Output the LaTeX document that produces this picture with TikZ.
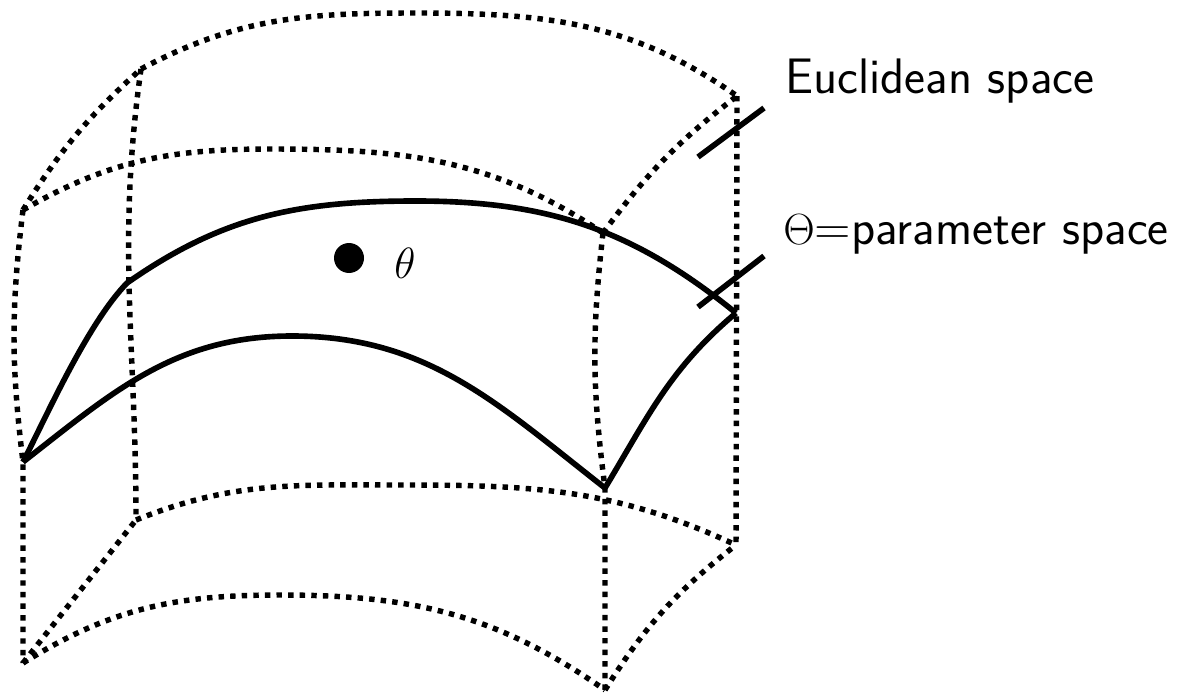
\documentclass[tikz,border=0pt]{standalone}
\usepackage{amsmath}
\usetikzlibrary{positioning}
\tikzset{
  edot/.style ={line width=3.1pt,dash pattern=on 3.1pt off 3.5pt,line cap=butt},
  esol/.style ={line width=3.2pt,line join=round},
  lead/.style ={line width=3.2pt},
  lbl/.style  ={font=\fontsize{28.4}{34}\selectfont\sffamily,inner sep=0pt,
                anchor=base west},
  pdot/.style ={circle,fill=black,minimum size=0.6cm,inner sep=0pt},
}

\begin{document}
\begin{tikzpicture}[x=0.02cm,y=-0.02cm]
\useasboundingbox (0,0) rectangle (1182,696);

% corners of the euclidean slab
\coordinate (tbl) at (141,69);
\coordinate (tbr) at (737,96);
\coordinate (tfl) at (23,210);
\coordinate (tfr) at (603,233);
\coordinate (bbl) at (136,520);
\coordinate (bbr) at (736,545);
\coordinate (bfl) at (23,663);
\coordinate (bfr) at (605,690);
\coordinate (tbm) at (415,13);
\coordinate (tfm) at (270,149);
\coordinate (bbm) at (400,485);
\coordinate (bfm) at (280,595);

% corners of the parameter surface
\coordinate (sfl) at (23,462);
\coordinate (sbl) at (127,283);
\coordinate (sfr) at (605,488);
\coordinate (sbr) at (736,313);
\coordinate (sbm) at (416,201);
\coordinate (sfm) at (292,336);

%% dotted box
\draw[edot] (tbl) to[out=28,in=180] (tbm) to[out=0,in=145] (tbr);
\draw[edot] (tfl) to[out=30,in=180] (tfm) to[out=0,in=146] (tfr);
\draw[edot] (tfl) to[bend left=8] (tbl);
\draw[edot] (tfr) to[bend left=8] (tbr);
\draw[edot] (tbl) to[out=-98,in=90] (bbl);
\draw[edot] (tfl) to[bend right=7] (sfl) -- (bfl);
\draw[edot] (tfr) to[bend right=7] (sfr) -- (bfr);
\draw[edot] (tbr) -- (bbr);
\draw[edot] (bbl) to[out=22,in=180] (bbm) to[out=0,in=155] (bbr);
\draw[edot] (bfl) to[out=32,in=180] (bfm) to[out=0,in=145] (bfr);
\draw[edot] (bfl) -- (bbl);
\draw[edot] (bfr) to[bend left=10] (bbr);

%% solid surface
\draw[esol] (sfl) to[out=63,in=-134,looseness=0.7] (sbl)
            to[out=35,in=180] (sbm) to[out=0,in=141] (sbr);
\draw[esol] (sfl) to[out=38,in=180] (sfm) to[out=0,in=142] (sfr);
\draw[esol] (sfr) to[out=59,in=220] (sbr);

\node[pdot] (theta) at (349,258) {};
\node[font=\fontsize{25}{30}\selectfont] (thlbl) at (405,263) {$\theta$};

%% labels
\coordinate (eu1) at (698,157);
\coordinate (eu2) at (764,108);
\coordinate (pa1) at (698,307);
\coordinate (pa2) at (764,256);
\draw[lead] (eu1) -- (eu2);
\draw[lead] (pa1) -- (pa2);
\node[lbl] (eucl) at (785,93) {Euclidean space};
\node[lbl] (param) at (783,244) {$\Theta$=parameter space};

\end{tikzpicture}
\end{document}
